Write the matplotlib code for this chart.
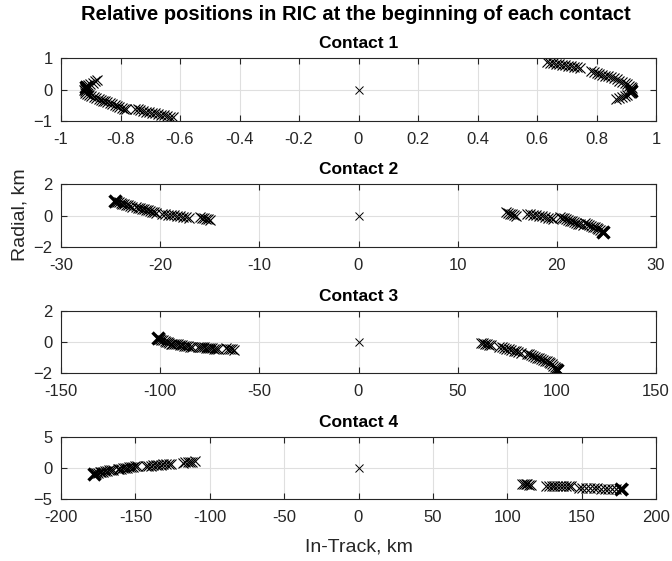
import matplotlib
matplotlib.use("Agg")
import matplotlib.pyplot as plt

plt.rcParams['font.family'] = ['Liberation Sans', 'DejaVu Sans']

# ---- Contact 1 (In-Track, Radial) ----
c1_x = [-0.880, -0.886, -0.893, -0.901, -0.908, -0.914, -0.918, -0.921, -0.922, -0.921,
        -0.918, -0.913, -0.906, -0.898, -0.890, -0.881,
        -0.872, -0.865, -0.858, -0.851, -0.844, -0.836, -0.828, -0.820, -0.812, -0.804,
        -0.796, -0.788, -0.781,
        -0.752, -0.742, -0.733, -0.723, -0.713, -0.703, -0.693, -0.683, -0.673, -0.663,
        -0.653, -0.643, -0.633, -0.625,
        0.635, 0.645, 0.655, 0.665, 0.675, 0.685, 0.695, 0.705, 0.715, 0.725, 0.735, 0.745,
        0.780, 0.790, 0.800, 0.810, 0.820, 0.830, 0.840, 0.850, 0.860, 0.870,
        0.875, 0.885, 0.895, 0.903, 0.910, 0.915, 0.918, 0.920, 0.920, 0.917,
        0.912, 0.904, 0.895, 0.885, 0.875, 0.865]
c1_y = [0.30, 0.26, 0.22, 0.18, 0.14, 0.10, 0.06, 0.02, -0.02, -0.06,
        -0.10, -0.14, -0.18, -0.21, -0.24, -0.27,
        -0.29, -0.32, -0.35, -0.38, -0.41, -0.44, -0.47, -0.50, -0.53, -0.56,
        -0.58, -0.61, -0.63,
        -0.61, -0.63, -0.66, -0.68, -0.70, -0.72, -0.74, -0.76, -0.78, -0.80,
        -0.82, -0.84, -0.86, -0.88,
        0.86, 0.85, 0.83, 0.82, 0.80, 0.79, 0.77, 0.76, 0.74, 0.72, 0.71, 0.69,
        0.58, 0.55, 0.53, 0.50, 0.47, 0.44, 0.42, 0.39, 0.36, 0.33,
        0.28, 0.24, 0.20, 0.16, 0.12, 0.08, 0.04, 0.00, -0.04, -0.08,
        -0.12, -0.16, -0.20, -0.24, -0.27, -0.30]
c1_end_x = [-0.915, 0.915]
c1_end_y = [0.08, -0.05]

# ---- Contact 2 ----
c2_x = [-24.6, -24.4, -24.2, -24.0, -23.8, -23.6, -23.4, -23.2, -23.0, -22.8,
        -22.4, -22.2, -22.0, -21.8, -21.6, -21.4, -21.2, -21.0, -20.8, -20.6, -20.4,
        -19.8, -19.5, -19.2, -18.9, -18.6, -18.3, -18.0, -17.7, -17.4, -17.1,
        -16.0, -15.8, -15.6, -15.4, -15.2, -15.0,
        14.9, 15.1, 15.3, 15.5, 15.7, 15.9,
        17.0, 17.3, 17.6, 17.9, 18.2, 18.5, 18.8, 19.1, 19.4, 19.6,
        20.3, 20.5, 20.7, 20.9, 21.1, 21.3, 21.5, 21.7, 21.9, 22.1, 22.3, 22.6,
        22.8, 23.0, 23.2, 23.4, 23.6, 23.8, 24.0, 24.2, 24.4, 24.6, 24.8]
c2_y = [0.92, 0.88, 0.84, 0.80, 0.76, 0.72, 0.68, 0.64, 0.60, 0.56,
        0.55, 0.50, 0.47, 0.43, 0.39, 0.35, 0.32, 0.28, 0.24, 0.20, 0.16,
        0.12, 0.09, 0.06, 0.04, 0.01, -0.02, -0.05, -0.08, -0.11, -0.14,
        -0.10, -0.14, -0.18, -0.21, -0.25, -0.28,
        0.20, 0.16, 0.12, 0.08, 0.04, 0.00,
        0.10, 0.07, 0.04, 0.01, -0.03, -0.06, -0.09, -0.13, -0.16, -0.20,
        -0.10, -0.15, -0.19, -0.24, -0.28, -0.33, -0.37, -0.42, -0.46, -0.51, -0.55, -0.60,
        -0.50, -0.55, -0.60, -0.66, -0.71, -0.76, -0.82, -0.87, -0.93, -0.98, -1.04]
c2_end_x = [-24.6, 24.7]
c2_end_y = [0.92, -1.02]

# ---- Contact 3 ----
c3_x = [-101.0, -100.2, -99.4, -98.6, -97.8, -97.0, -96.2, -95.4, -94.6, -93.8,
        -93.0, -92.0, -91.0, -90.0, -89.0, -88.0, -87.0, -86.0, -85.0, -84.0,
        -81.0, -80.0, -79.0, -78.0, -77.0, -76.0, -75.0, -74.0, -73.0, -72.0, -71.0,
        -67.0, -66.0, -65.0, -64.0, -63.0,
        62.0, 63.0, 64.0, 65.0, 66.0, 67.0,
        71.0, 72.2, 73.4, 74.6, 75.8, 77.0, 78.2, 79.4, 80.6, 82.0,
        85.0, 86.0, 87.0, 88.0, 89.0, 90.0, 91.0, 92.0, 93.0, 94.0,
        95.0, 95.8, 96.6, 97.4, 98.2, 99.0, 99.8, 100.6]
c3_y = [0.22, 0.18, 0.14, 0.10, 0.06, 0.02, -0.02, -0.06, -0.10, -0.14,
        -0.10, -0.13, -0.15, -0.18, -0.21, -0.24, -0.26, -0.29, -0.32, -0.35,
        -0.30, -0.32, -0.33, -0.35, -0.36, -0.38, -0.39, -0.41, -0.42, -0.44, -0.45,
        -0.40, -0.42, -0.45, -0.47, -0.50,
        -0.05, -0.08, -0.11, -0.14, -0.17, -0.20,
        -0.30, -0.34, -0.39, -0.43, -0.48, -0.52, -0.57, -0.61, -0.66, -0.70,
        -0.75, -0.80, -0.85, -0.90, -0.95, -1.00, -1.05, -1.10, -1.15, -1.20,
        -1.20, -1.28, -1.36, -1.45, -1.53, -1.61, -1.70, -1.78]
c3_end_x = [-101.0, 100.2]
c3_end_y = [0.25, -1.80]

# ---- Contact 4 ----
c4_x = [-178.0, -176.7, -175.4, -174.1, -172.8, -171.5, -170.2, -168.9, -167.6, -166.3, -165.0,
        -162.0, -160.7, -159.4, -158.1, -156.8, -155.5, -154.2, -152.9, -151.6, -150.3, -149.0,
        -143.0, -141.3, -139.6, -137.9, -136.2, -134.5, -132.8, -131.1, -129.4, -127.7, -126.0,
        -118.0, -116.4, -114.8, -113.2, -111.6, -110.0,
        110.0, 111.2, 112.4, 113.6, 114.8, 116.0,
        126.0, 127.9, 129.8, 131.7, 133.6, 135.5, 137.4, 139.3, 141.2, 143.0,
        148.0, 150.5, 153.0, 155.5, 158.0, 160.5, 163.0, 165.5, 168.0, 170.5, 173.0, 175.5, 178.0]
c4_y = [-0.90, -0.84, -0.77, -0.71, -0.64, -0.58, -0.51, -0.45, -0.38, -0.32, -0.25,
        -0.20, -0.15, -0.10, -0.05, 0.00, 0.05, 0.10, 0.15, 0.20, 0.25, 0.30,
        0.30, 0.34, 0.38, 0.42, 0.46, 0.50, 0.54, 0.58, 0.62, 0.66, 0.70,
        0.85, 0.89, 0.93, 0.97, 1.01, 1.05,
        -2.60, -2.62, -2.64, -2.66, -2.68, -2.70,
        -2.85, -2.86, -2.87, -2.88, -2.90, -2.91, -2.92, -2.93, -2.94, -2.95,
        -3.25, -3.26, -3.27, -3.28, -3.29, -3.30, -3.31, -3.32, -3.33, -3.34, -3.35, -3.36, -3.37]
c4_end_x = [-178.0, 176.5]
c4_end_y = [-1.00, -3.35]

titles = ["Contact 1", "Contact 2", "Contact 3", "Contact 4"]
xs = [c1_x, c2_x, c3_x, c4_x]
ys = [c1_y, c2_y, c3_y, c4_y]
ends_x = [c1_end_x, c2_end_x, c3_end_x, c4_end_x]
ends_y = [c1_end_y, c2_end_y, c3_end_y, c4_end_y]
xlims = [(-1, 1), (-30, 30), (-150, 150), (-200, 200)]
ylims = [(-1, 1), (-2, 2), (-2, 2), (-5, 5)]
xticks = [[-1, -0.8, -0.6, -0.4, -0.2, 0, 0.2, 0.4, 0.6, 0.8, 1],
          [-30, -20, -10, 0, 10, 20, 30],
          [-150, -100, -50, 0, 50, 100, 150],
          [-200, -150, -100, -50, 0, 50, 100, 150, 200]]
yticks = [[-1, 0, 1], [-2, 0, 2], [-2, 0, 2], [-5, 0, 5]]
xticklabels = [["-1", "-0.8", "-0.6", "-0.4", "-0.2", "0", "0.2", "0.4", "0.6", "0.8", "1"],
               ["-30", "-20", "-10", "0", "10", "20", "30"],
               ["-150", "-100", "-50", "0", "50", "100", "150"],
               ["-200", "-150", "-100", "-50", "0", "50", "100", "150", "200"]]

fig = plt.figure(figsize=(6.72, 5.61), dpi=100)
W, H = 672, 561
left, right = 61, 656
tops = [58, 184, 311, 437]
bottoms = [121, 247, 373, 499]
dark = '#262626'

for i in range(4):
    ax = fig.add_axes([left / W, 1 - bottoms[i] / H, (right - left) / W,
                       (bottoms[i] - tops[i]) / H])
    ax.plot(xs[i], ys[i], linestyle='none', marker='x', color='black',
            markersize=6.5, markeredgewidth=0.8)
    ax.plot(ends_x[i], ends_y[i], linestyle='none', marker='x', color='black',
            markersize=8, markeredgewidth=2.4)
    ax.plot([0], [0], linestyle='none', marker='x', color='black',
            markersize=6, markeredgewidth=0.7)
    ax.set_xlim(*xlims[i])
    ax.set_ylim(*ylims[i])
    ax.set_xticks(xticks[i])
    ax.set_xticklabels(xticklabels[i])
    ax.set_yticks(yticks[i])
    ax.grid(True, color='#dfdfdf', linewidth=0.8)
    ax.set_axisbelow(True)
    for s in ax.spines.values():
        s.set_color(dark)
        s.set_linewidth(0.8)
    ax.tick_params(direction='in', length=4.5, width=0.8, colors=dark,
                   labelsize=12, top=True, right=True)
    ax.tick_params(axis='x', pad=8)
    ax.tick_params(axis='y', pad=6)
    ax.set_title(titles[i], fontsize=12.5, fontweight='bold', pad=7)
    if i == 3:
        ax.set_xlabel("In-Track, km", fontsize=14, color=dark, labelpad=10)

fig.text(20 / W, 1 - 215 / H, "Radial, km", rotation=90, fontsize=14,
         color=dark, ha='center', va='center')
fig.text(356 / W, 1 - 14 / H, "Relative positions in RIC at the beginning of each contact",
         fontsize=14.5, fontweight='bold', ha='center', va='center')

fig.savefig("out.png", dpi=100)
